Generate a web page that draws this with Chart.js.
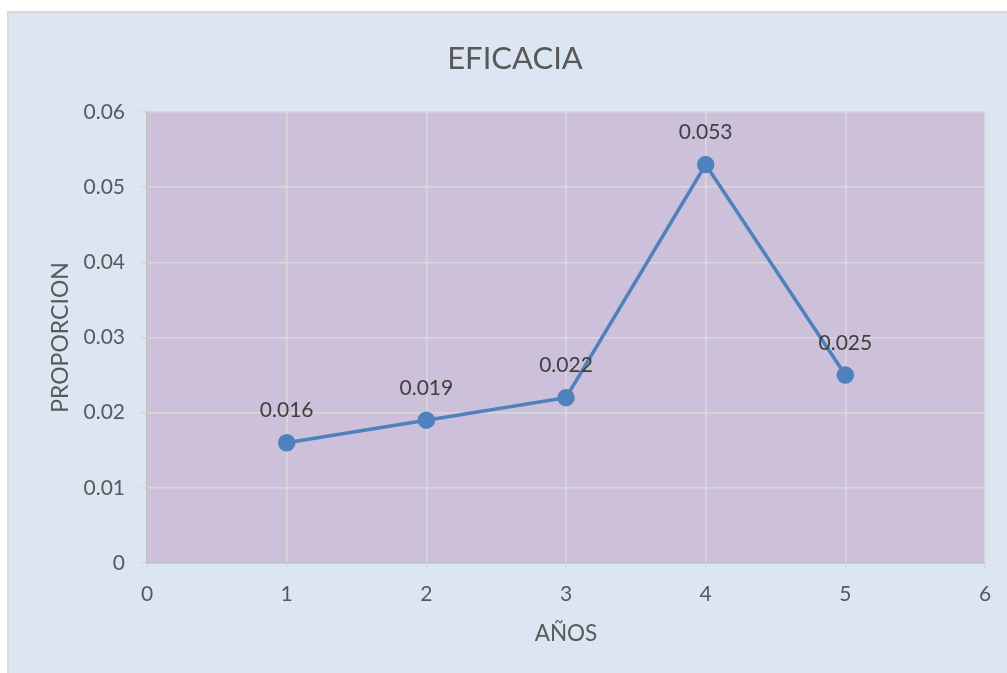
<!DOCTYPE html>
<html>
<head>
<meta charset="utf-8">
<script src="https://cdn.jsdelivr.net/npm/chart.js@4.4.1/dist/chart.umd.min.js"></script>
<style>
  html, body { margin: 0; padding: 0; background: #ffffff; }
  #wrap { position: absolute; left: 0; top: 0; width: 1007px; height: 673px; }
</style>
</head>
<body>
<div id="wrap"><canvas id="eficacia_chart" width="1007" height="673"></canvas></div>
<script>
// years on the x axis and the measured proportion for each one
const years = [1, 2, 3, 4, 5];
const proportion = [0.016, 0.019, 0.022, 0.053, 0.025];
const pointLabels = ['0.016', '0.019', '0.022', '0.053', '0.025'];
const chartTitle = 'EFICACIA';

const FONT = 'Lato, "Open Sans", sans-serif';
const ctx = document.getElementById('eficacia_chart');

// card + plot area background, and the title centred on the card
const backgroundPlugin = {
  id: 'backgrounds',
  beforeDraw(chart) {
    const c = chart.ctx;
    const area = chart.chartArea;
    c.save();
    c.fillStyle = '#dce6f2';
    c.fillRect(8, 12, 999, 661);
    c.strokeStyle = '#d9d9d9';
    c.lineWidth = 2;
    c.strokeRect(8, 12, 1000, 662);
    c.fillStyle = '#ccc0da';
    c.fillRect(area.left, area.top, area.right - area.left, area.bottom - area.top);
    c.font = '31px ' + FONT;
    c.fillStyle = '#595959';
    c.textAlign = 'center';
    c.textBaseline = 'middle';
    c.fillText(chartTitle, 515, 59);
    c.restore();
  }
};

// value labels above each point
const labelPlugin = {
  id: 'pointLabels',
  afterDatasetsDraw(chart) {
    const c = chart.ctx;
    const meta = chart.getDatasetMeta(0);
    c.save();
    c.font = '21px ' + FONT;
    c.fillStyle = '#404040';
    c.textAlign = 'center';
    c.textBaseline = 'middle';
    meta.data.forEach((pt, i) => {
      c.fillText(pointLabels[i], pt.x, pt.y - 32);
    });
    c.restore();
  }
};

var myChart = new Chart(ctx, {
  type: 'line',
  data: {
    datasets: [{
      label: 'PROPORCION',
      data: years.map((x, i) => ({ x: x, y: proportion[i] })),
      borderColor: '#4f81bd',
      backgroundColor: '#4f81bd',
      borderWidth: 3.5,
      pointRadius: 7,
      pointHoverRadius: 7,
      pointBackgroundColor: '#4f81bd',
      pointBorderColor: '#4f81bd',
      tension: 0
    }]
  },
  options: {
    responsive: false,
    animation: false,
    layout: { padding: { left: 0, right: 22, top: 112, bottom: 0 } },
    scales: {
      x: {
        type: 'linear',
        min: 0,
        max: 6,
        ticks: { stepSize: 1, color: '#595959', font: { family: FONT, size: 21 }, padding: 12 },
        grid: { color: '#d9d9d9', lineWidth: 1.5, tickLength: 7 },
        border: { color: '#bfbfbf', width: 1.5 },
        title: { display: true, text: 'AÑOS', color: '#595959', font: { family: FONT, size: 22.5 }, padding: { top: 0, bottom: 26 } },
        afterFit(scale) { scale.height = 110; }
      },
      y: {
        min: 0,
        max: 0.06,
        ticks: {
          stepSize: 0.01,
          color: '#595959',
          font: { family: FONT, size: 21 },
          padding: 15,
          callback: (v) => v === 0 ? '0' : v.toFixed(2)
        },
        grid: { color: '#d9d9d9', lineWidth: 1.5, tickLength: 7 },
        border: { color: '#bfbfbf', width: 1.5 },
        title: { display: true, text: 'PROPORCION', color: '#595959', font: { family: FONT, size: 23 }, padding: { top: 47, bottom: 0 } },
        afterFit(scale) { scale.width = 147; }
      }
    },
    plugins: {
      legend: { display: false },
      tooltip: { enabled: false },
      title: { display: false }
    }
  },
  plugins: [backgroundPlugin, labelPlugin]
});
</script>
</body>
</html>
